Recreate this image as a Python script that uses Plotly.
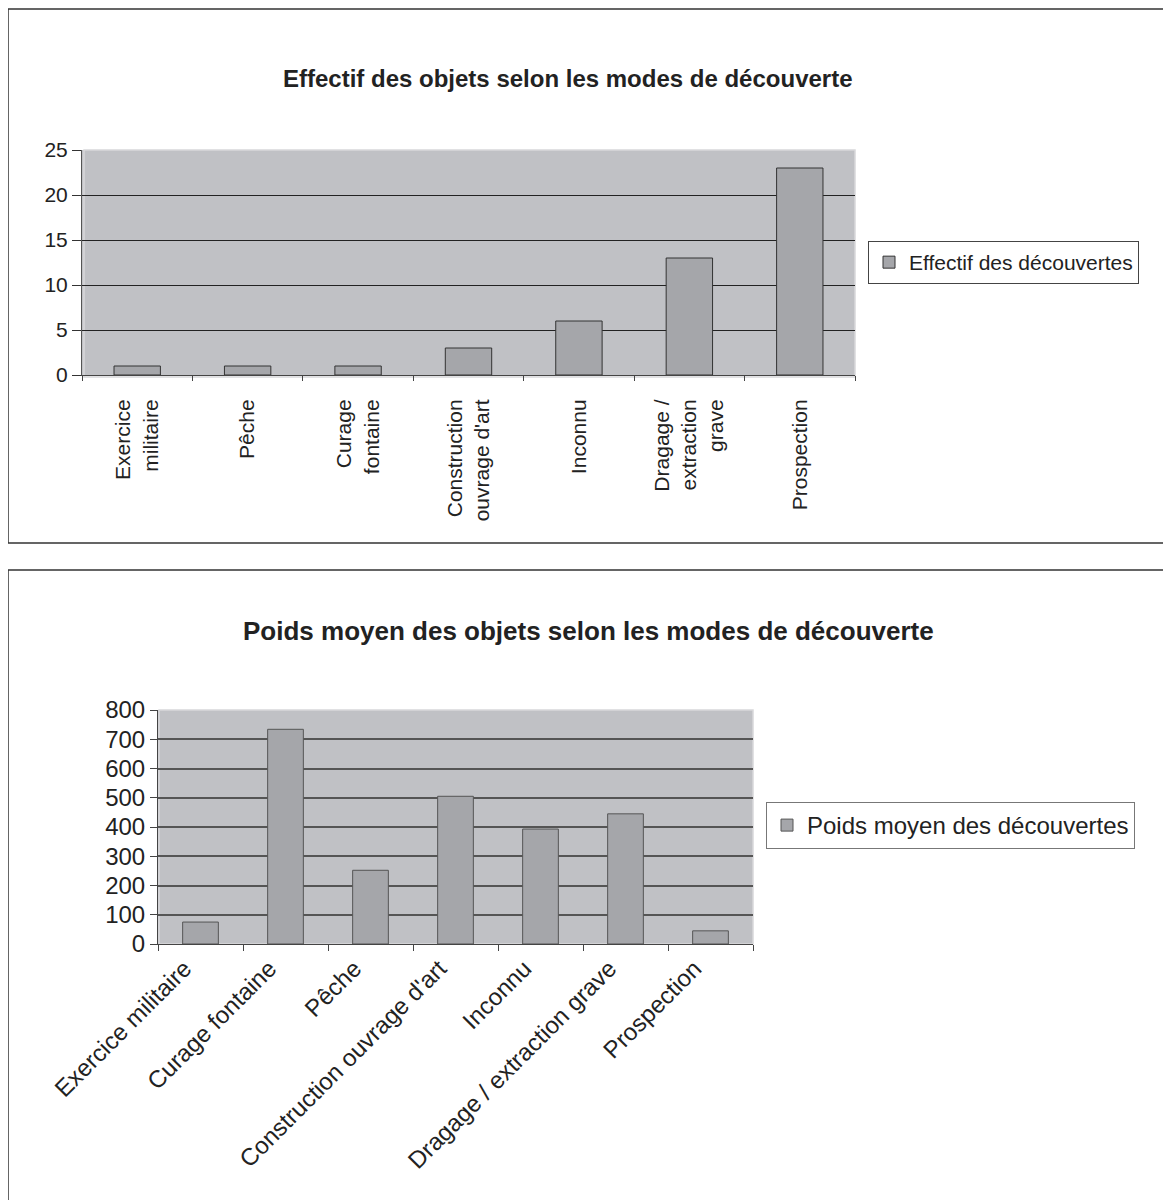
import plotly.graph_objects as go

# ---- data ----
modes_effectif = ["Exercice militaire", "Pêche", "Curage fontaine", "Construction ouvrage d'art",
                  "Inconnu", "Dragage / extraction grave", "Prospection"]
labels_effectif = ["Exercice<br>militaire", "Pêche", "Curage<br>fontaine", "Construction<br>ouvrage d'art",
                   "Inconnu", "Dragage /<br>extraction<br>grave", "Prospection"]
effectif = [1, 1, 1, 3, 6, 13, 23]

modes_poids = ["Exercice militaire", "Curage fontaine", "Pêche", "Construction ouvrage d'art",
               "Inconnu", "Dragage / extraction grave", "Prospection"]
poids = [75, 734, 252, 505, 393, 445, 45]

title_top = "Effectif des objets selon les modes de découverte"
title_bottom = "Poids moyen des objets selon les modes de découverte"
legend_top = "Effectif des découvertes"
legend_bottom = "Poids moyen des découvertes"

W, H = 1171, 1200
OFF = 8  # page body margin
def px(x):
    return max((x - OFF) / W, 0)
def py(y):
    return min(1 - (y - OFF) / H, 1)

FONT = "Liberation Sans, Arial, sans-serif"
NARROW = "Liberation Sans Narrow, Arial Narrow, Liberation Sans, Arial, sans-serif"
PLOT_BG = "#c0c1c5"
BAR = "#a5a6aa"

fig = go.Figure()
fig.add_trace(go.Bar(x=modes_effectif, y=effectif, name=legend_top, width=0.42,
                     marker=dict(color=BAR, line=dict(color="#333333", width=1)),
                     xaxis="x", yaxis="y", legend="legend"))
fig.add_trace(go.Bar(x=modes_poids, y=poids, name=legend_bottom, width=0.42,
                     marker=dict(color=BAR, line=dict(color="#555555", width=1)),
                     xaxis="x2", yaxis="y2", legend="legend2"))

fig.update_layout(
    width=W, height=H,
    margin=dict(l=0, r=0, t=0, b=0, pad=0, autoexpand=False),
    paper_bgcolor="white",
    plot_bgcolor=PLOT_BG,
    font=dict(family=FONT, color="#222222"),
    xaxis=dict(domain=[px(82), px(855)], anchor="y", type="category", automargin=False,
               categoryorder="array", categoryarray=modes_effectif,
               tickvals=modes_effectif, ticktext=labels_effectif,
               tickangle=-90, tickfont=dict(size=21, family=FONT, color="#222"),
               ticks="outside", ticklen=5, tickcolor="#444", tickson="boundaries",
               ticklabelstandoff=15,
               showgrid=False, showline=True, linecolor="#444", linewidth=1,
               fixedrange=True),
    yaxis=dict(domain=[py(375), py(150)], anchor="x", range=[0, 25], dtick=5, automargin=False,
               tickfont=dict(size=21, family=FONT, color="#222"),
               ticks="outside", ticklen=9, tickcolor="#333",
               showgrid=True, gridcolor="#222222", gridwidth=1,
               zeroline=True, zerolinecolor="#222222", zerolinewidth=1,
               showline=True, linecolor="#555", linewidth=1, mirror=False),
    xaxis2=dict(domain=[px(158), px(753)], anchor="y2", type="category", automargin=False,
                categoryorder="array", categoryarray=modes_poids,
                tickangle=-45, tickfont=dict(size=24, family=FONT, color="#222"),
                ticks="outside", ticklen=6, tickcolor="#444", tickson="boundaries",
                ticklabelshift=-16,
                showgrid=False, showline=True, linecolor="#444", linewidth=1,
                fixedrange=True),
    yaxis2=dict(domain=[py(944), py(710)], anchor="x2", range=[0, 800], dtick=100, automargin=False,
                tickfont=dict(size=24, family=NARROW, color="#222"),
                ticks="outside", ticklen=7, tickcolor="#444",
                showgrid=True, gridcolor="#555555", gridwidth=1.5,
                zeroline=True, zerolinecolor="#444444", zerolinewidth=1,
                showline=True, linecolor="#444", linewidth=1),
    legend=dict(x=px(868), y=py(241), xanchor="left", yanchor="top",
                bordercolor="#444", borderwidth=1, bgcolor="white",
                font=dict(size=21, family=FONT, color="#222"),
                itemwidth=30, tracegroupgap=0),
    legend2=dict(x=px(766), y=py(802), xanchor="left", yanchor="top",
                 bordercolor="#777", borderwidth=1, bgcolor="white",
                 font=dict(size=24, family=FONT, color="#222"),
                 itemwidth=30),
    showlegend=True,
    annotations=[
        dict(text="<b>" + title_top + "</b>", x=px(568), y=py(78), xref="paper", yref="paper",
             xanchor="center", yanchor="middle", showarrow=False,
             font=dict(size=24, family=FONT, color="#222")),
        dict(text="<b>" + title_bottom + "</b>", x=px(588), y=py(631), xref="paper", yref="paper",
             xanchor="center", yanchor="middle", showarrow=False,
             font=dict(size=26, family=FONT, color="#222")),
    ],
    shapes=[
        # panel frames
        dict(type="rect", xref="paper", yref="paper", x0=px(8), x1=px(1172), y0=py(543), y1=py(9),
             line=dict(color="#333", width=1.5), layer="below"),
        dict(type="rect", xref="paper", yref="paper", x0=px(8), x1=px(1172), y0=py(1205), y1=py(570),
             line=dict(color="#333", width=1.5), layer="below"),
        # light frame around plot areas
        dict(type="rect", xref="paper", yref="paper", x0=px(84), x1=px(855), y0=py(377), y1=py(150),
             line=dict(color="#d8d8da", width=1.5), layer="below"),
        dict(type="rect", xref="paper", yref="paper", x0=px(159), x1=px(753), y0=py(944), y1=py(710),
             line=dict(color="#d8d8da", width=1.5), layer="below"),
    ],
)

fig.write_html("out.html")
